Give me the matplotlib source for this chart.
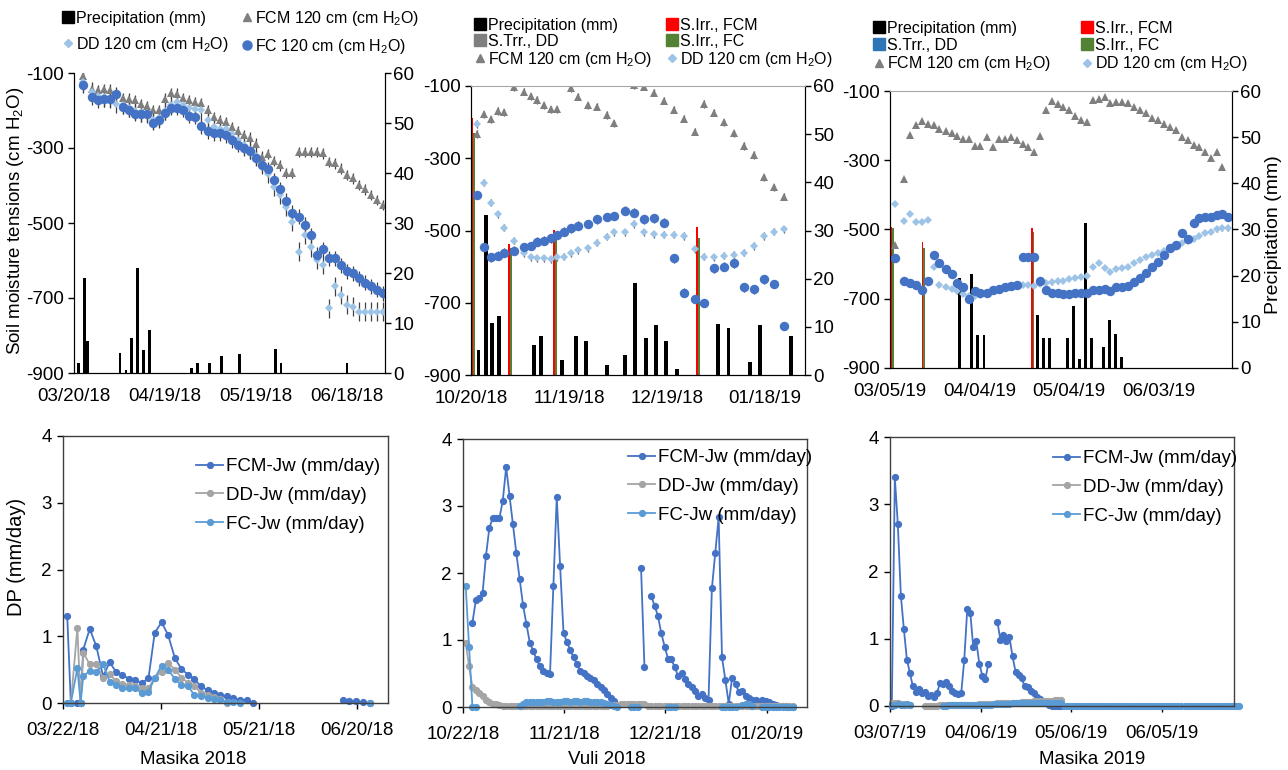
import numpy as np
import matplotlib
matplotlib.use("Agg")

import matplotlib.pyplot as plt
from matplotlib.lines import Line2D


plt.rcParams["font.family"] = ["Liberation Sans", "DejaVu Sans"]
plt.rcParams["mathtext.fontset"] = "custom"
plt.rcParams["mathtext.rm"] = "Liberation Sans"
plt.rcParams["mathtext.it"] = "Liberation Sans:italic"
plt.rcParams["axes.unicode_minus"] = False

FIG_W, FIG_H = 1288, 770
nan = np.nan

# Colours
FC_BLUE = "#4472C4"
DD_BLUE = "#9DC3E6"
FCM_GREY = "#7F7F7F"
ERR_COLOR = "#404040"
IRR_RED = "#FF0000"
IRR_GREEN = "#548235"
JW_FCM = "#4472C4"
JW_DD = "#A5A5A5"
JW_FC = "#5B9BD5"

# ---------------- Masika 2018 (top) : days after 03/20/18 ----------------
M18_DAYS = [3, 6, 8, 10, 12, 14, 16, 18, 20, 22, 24, 26, 28, 30, 32, 34, 36,
            38, 40, 42, 44, 46, 48, 50, 52, 54, 56, 58, 60, 62, 64, 66, 68, 70,
            72, 74, 76, 78, 80, 82, 84, 86, 88, 90, 92, 94, 96, 98, 100, 102]
M18_FCM = [-109, -142, -146, -142, -144, -155, -166, -168, -173, -183,
           -189, -199, -198, -168, -153, -155, -166, -173, -177, -180,
           -199, -217, -226, -230, -244, -254, -266, -272, -288, -323,
           -316, -334, -346, -366, -366, -310, -310, -310, -310, -314,
           -337, -341, -355, -372, -381, -399, -410, -425, -439, -452]
M18_DD = [-125, -150, -160, -165, -168, -182, -185, -192, -200, -205,
          -207, -225, -220, -200, -185, -177, -185, -192, -197, -199,
          -226, -244, -248, -248, -262, -278, -292, -305, -322, -345,
          -368, -403, -425, -456, -496, -576, -532, -565, -598, -612,
          -727, -669, -692, -718, -723, -736, -736, -736, -736, -736]
M18_FC = [-133, -164, -173, -170, -170, -157, -190, -198, -208, -210,
          -210, -233, -226, -206, -192, -192, -198, -214, -217, -242,
          -255, -260, -261, -266, -279, -291, -301, -308, -326, -344,
          -357, -386, -410, -441, -472, -483, -504, -532, -585, -570,
          -594, -594, -612, -629, -634, -647, -659, -669, -678, -687]
M18_RAIN_DAYS = [1.4, 3.4, 4.4, 15.2, 17.1, 19.0, 21.0, 23.0, 25.0, 38.8,
                 40.7, 44.6, 48.7, 54.5, 66.3, 68.2, 90.0]
M18_RAIN = [2.0, 19.0, 6.5, 4.0, 0.7, 7.0, 21.0, 4.7, 8.7, 1.0,
            2.1, 2.0, 3.5, 3.9, 4.8, 2.1, 2.1]
M18_TICKS = ["03/20/18", "04/19/18", "05/19/18", "06/18/18"]

# ---------------- Vuli 2018 (top) : days after 10/20/18 ----------------
V18_DAYS = [1.7, 4.0, 6.0, 8.2, 10.1, 13.2, 16.2, 18.3, 20.3, 22.3, 24.4, 26.4,
            28.5, 30.5, 32.6, 35.7, 38.7, 41.7, 43.9, 47.0, 50.0, 53.0, 56.1,
            59.2, 62.2, 65.3, 68.4, 71.4, 74.4, 77.4, 80.5, 83.6, 86.6, 89.7,
            92.8, 95.9]
V18_FCM = [-233, -178, -192, -169, -173, -104, -116, -128, -139, -153, -164,
           -165, nan, -106, -130, -153, -157, -180, -203, nan, -98, -102, -118,
           -141, -166, -191, -226, -150, -174, -201, -231, -266, -291, -353,
           -380, -406]
V18_DD = [-205, -368, -423, -455, -492, -528, -563, -574, -577, -577, -580,
          -574, -572, -563, -555, -549, -534, -517, -505, -505, -482, -505,
          -510, -512, -512, -515, -552, -572, -574, -570, -568, -561, -543,
          -515, -503, -497]
V18_FC = [-402, -546, -574, -570, -561, -556, -546, -543, -531, -528, -522,
          -512, -503, -494, -487, -482, -469, -463, -460, -445, -451, -469,
          -466, -478, -577, -672, -690, -701, -605, -600, -591, -657, -663,
          -635, -648, -764]
V18_RAIN_DAYS = [2.3, 4.5, 6.5, 8.7, 19.4, 21.3, 27.8, 32.0, 35.1, 41.7, 47.1,
                 50.2, 53.5, 56.5, 59.7, 62.9, 75.7, 78.8, 85.4, 88.5, 98.0]
V18_RAIN = [5.2, 33.2, 10.7, 12.2, 6.2, 8.1, 3.1, 8.1, 7.1, 2.1, 4.2,
            19.0, 7.6, 10.4, 7.1, 1.2, 10.6, 9.7, 2.8, 10.4, 8.1]
V18_IRR_DAYS = [0.7, 11.9, 25.7, 69.4]
V18_IRR_FCM = [53.3, 27.2, 30.1, 30.7]
V18_IRR_FC = [50.2, 26.3, 28.4, 28.4]
V18_TICKS = ["10/20/18", "11/19/18", "12/19/18", "01/18/19"]

# ---------------- Masika 2019 (top) : days after 03/05/19 ----------------
M19_DAYS = [1.7, 4.7, 6.7, 8.8, 10.7, 12.7, 14.6, 16.5, 18.7, 20.7, 22.5, 24.5,
            26.4, 28.4, 30.3, 32.4, 34.4, 36.4, 38.4, 40.4, 42.4, 44.4, 46.4,
            48.3, 50.3, 52.2, 54.2, 56.2, 58.1, 60.1, 62.1, 64.0, 66.1, 68.0,
            69.9, 71.9, 73.7, 75.7, 77.8, 79.8, 81.8, 83.8, 85.8, 87.9, 89.9,
            91.9, 93.8, 95.8, 97.8, 99.8, 101.8, 103.7, 105.6, 107.6, 109.6,
            111.2, 113.3]
M19_FCM = [-545, -353, -228, -199, -186, -196, -199, -209, -215, -221,
           -231, -240, -240, -259, -259, -234, -261, -240, -240, -234,
           -242, -254, -263, -276, -231, -156, -129, -138, -146, -156,
           -173, -183, -190, -127, -123, -117, -136, -132, -132, -134,
           -146, -156, -163, -177, -184, -194, -205, -213, -232, -241,
           -256, -261, -275, -294, -275, -320, nan]
M19_DD = [-425, -475, -455, -477, -477, -472, -607, -660, -667, -672,
          -679, -686, -692, -692, -689, -684, -679, -672, -667, -665,
          -663, -660, -660, -663, -657, -655, -653, -650, -648, -644,
          -641, -636, -634, -607, -597, -612, -622, -615, -612, -607,
          -596, -588, -578, -574, -567, -561, -557, -550, -540, -532,
          -526, -519, -511, -506, -500, -497, -497]
M19_FC = [-583, -648, -655, -660, -676, -648, -573, -597, -615, -628,
          -655, -665, -701, -679, -684, -682, -676, -672, -667, -663,
          -660, -580, -578, -578, -648, -675, -682, -684, -686, -686,
          -684, -682, -682, -676, -674, -672, -679, -665, -665, -663,
          -651, -641, -626, -607, -593, -574, -554, -545, -509, -528,
          -480, -468, -465, -463, -458, -455, -463]
M19_RAIN_DAYS = [23.3, 27.3, 29.2, 31.5, 49.4, 51.3, 53.3, 59.4, 61.4, 63.4,
                 65.6, 67.5, 71.6, 73.6, 75.7, 77.7]
M19_RAIN = [19.5, 20.4, 7.2, 7.2, 11.5, 6.5, 6.5, 6.5, 13.5, 1.9,
            31.3, 6.5, 4.5, 10.4, 7.4, 2.4]
M19_IRR_DAYS = [0.6, 11.2, 47.8]
M19_IRR_FCM = [30.6, 27.2, 30.3]
M19_IRR_FC = [30.3, 25.9, 29.5]
M19_TICKS = ["03/05/19", "04/04/19", "05/04/19", "06/03/19"]

# ---------------- Deep percolation, Masika 2018 : days after 03/22/18 ----------------
DP18_DAYS = [1.3, 2.4, 4.4, 5.4, 6.2, 8.2, 10.2, 12.3, 14.3, 16.2, 18.2, 20.3,
             22.1, 24.2, 26.2, 28.1, 30.2, 32.2, 34.3, 36.3, 38.4, 40.2, 42.3,
             44.3, 46.4, 48.1, 50.2, 52.2, 54.2, 56.3, 58.3, 70.0, 85.8, 87.8,
             89.9, 91.9, 94.0]
DP18_FCM = [1.30, 0.00, 0.00, 0.00, 0.80, 1.11, 0.85, 0.40, 0.61, 0.47, 0.42,
            0.36, 0.34, 0.30, 0.37, 1.05, 1.21, 1.02, 0.67, 0.51, 0.42, 0.36,
            0.25, 0.19, 0.15, 0.12, 0.10, 0.07, 0.05, 0.04, 0.00, nan, 0.04,
            0.025, 0.025, 0.01, 0.00]
DP18_DD = [nan, 0.00, 1.12, 0.00, 0.75, 0.58, 0.58, 0.38, 0.43, 0.33, 0.28,
           0.27, 0.25, 0.22, 0.22, 0.38, 0.47, 0.60, 0.50, 0.38, 0.30, 0.26,
           0.15, 0.12, 0.09, 0.06, 0.00, nan, nan, nan, nan, nan, nan,
           nan, nan, nan, nan]
DP18_FC = [0.00, 0.00, 0.52, 0.00, 0.40, 0.48, 0.46, 0.58, 0.32, 0.27, 0.23,
           0.22, 0.22, 0.15, 0.17, 0.37, 0.56, 0.50, 0.36, 0.27, 0.25, 0.12,
           0.11, 0.07, 0.06, 0.05, 0.02, 0.01, 0.00, nan, nan, nan, nan,
           nan, nan, nan, 0.00]
DP18_TICKS = ["03/22/18", "04/21/18", "05/21/18", "06/20/18"]

# ---------------- Deep percolation, Vuli 2018 : daily from 10/22/18 ----------------
DPV_START = 0.8
DPV_FCM = [nan, nan, 1.26, 1.59, 1.62, 1.70, 2.25, 2.67, 2.82, 2.82,
           2.82, 3.08, 3.58, 3.15, 2.73, 2.30, 1.91, 1.52, 1.24, 0.96,
           0.84, 0.71, 0.61, 0.54, 0.51, 0.49, 1.81, 3.13, 2.10, 1.11,
           0.97, 0.85, 0.74, 0.64, 0.54, 0.51, 0.47, 0.44, 0.41, 0.35,
           0.30, 0.25, 0.19, 0.14, 0.09, 0.02, nan, nan, nan, nan,
           nan, nan, 2.07, 0.60, nan, 1.66, 1.51, 1.36, 1.10, 0.90,
           0.72, 0.71, 0.59, 0.46, 0.51, 0.42, 0.35, 0.30, 0.24, 0.16,
           0.19, 0.14, 0.11, 1.77, 2.30, 2.83, 0.74, 0.40, 0.05, 0.44,
           0.35, 0.22, 0.24, 0.16, 0.14, 0.11, 0.10, 0.07, 0.10, 0.09,
           0.07, 0.04, 0.03, 0.02, 0.01, 0.01, 0.00, 0.00]
DPV_DD = [0.95, 0.61, 0.30, 0.26, 0.21, 0.16, 0.11, 0.07, 0.05, 0.04,
          0.03, 0.02, 0.02, 0.02, 0.02, 0.02, 0.01, 0.01, 0.01, 0.01,
          0.01, 0.01, 0.01, 0.01, 0.01, 0.01, 0.01, 0.01, 0.01, 0.01,
          0.01, 0.01, 0.01, 0.01, 0.01, 0.02, 0.02, 0.02, 0.02, 0.02,
          0.02, 0.02, 0.02, 0.03, 0.03, 0.03, 0.04, 0.05, 0.05, 0.05,
          0.05, 0.04, 0.05, 0.04, 0.02, 0.01, 0.01, 0.01, 0.01, 0.01,
          0.01, 0.01, 0.01, 0.01, 0.01, 0.01, 0.01, 0.01, 0.01, 0.01,
          0.01, 0.01, 0.01, 0.01, 0.01, 0.01, 0.01, 0.01, 0.01, 0.01,
          0.01, 0.01, 0.01, 0.01, 0.01, 0.01, 0.01, 0.01, 0.01, 0.01,
          0.01, 0.01, 0.01, 0.01, 0.01, 0.01, 0.01, 0.01]
DPV_FC = [1.81, 0.90, 0.00, 0.00, nan, nan, nan, nan, nan, nan,
          nan, nan, nan, nan, nan, nan, 0.01, 0.05, 0.07, 0.07,
          0.08, 0.08, 0.08, 0.08, 0.09, 0.09, 0.08, 0.08, 0.08, 0.09,
          0.09, 0.08, 0.09, 0.09, 0.08, 0.09, 0.09, 0.08, 0.08, 0.07,
          0.07, 0.06, 0.05, 0.03, 0.02, 0.00, nan, nan, nan, 0.00,
          0.00, 0.00, nan, nan, nan, nan, nan, nan, nan, nan,
          0.00, 0.00, 0.00, nan, nan, nan, nan, nan, nan, nan,
          nan, nan, nan, nan, nan, nan, 0.00, 0.00, 0.00, 0.00,
          0.00, nan, 0.03, 0.04, 0.04, 0.02, nan, nan, 0.00, 0.00,
          0.00, 0.00, 0.00, 0.00, 0.00, 0.00, 0.00, 0.00]
DPV_TICKS = ["10/22/18", "11/21/18", "12/21/18", "01/20/19"]

# ---------------- Deep percolation, Masika 2019 : daily from 03/07/19 ----------------
DP19_START = 0.6
DP19_FCM = [0.00, 3.40, 2.70, 1.64, 1.14, 0.69, 0.49, 0.29, 0.21, 0.25,
            0.20, 0.21, 0.15, 0.16, 0.13, 0.20, 0.34, 0.33, 0.35, 0.30,
            0.23, 0.20, 0.18, 0.19, 0.68, 1.44, 1.39, 0.87, 0.96, 0.63,
            0.45, 0.40, 0.63, nan, nan, 1.25, 0.98, 1.05, 0.96, 1.02,
            0.74, 0.51, 0.46, 0.41, 0.30, 0.28, 0.23, 0.20, 0.14, 0.10,
            0.06, 0.04, 0.01, 0.00, 0.00, 0.00, 0.00]
DP19_DD = [0.04, 0.05, 0.04, 0.03, 0.03, 0.02, 0.01, nan, nan, nan,
           nan, 0.00, 0.00, 0.00, 0.00, 0.00, 0.01, 0.01, 0.01, 0.01,
           0.01, 0.01, 0.02, 0.02, 0.02, 0.02, 0.02, 0.02, 0.02, 0.03,
           0.03, 0.03, 0.03, 0.03, 0.03, 0.04, 0.04, 0.04, 0.04, 0.05,
           0.05, 0.05, 0.05, 0.06, 0.06, 0.06, 0.06, 0.07, 0.07, 0.07,
           0.07, 0.08, 0.08, 0.08, 0.09, 0.09, 0.09]
DP19_FC = [0.02, 0.02, 0.03, 0.02, 0.02, 0.03, 0.02, nan, nan, nan,
           nan, nan, nan, nan, nan, nan, nan, 0.00, 0.00, 0.01,
           0.01, 0.01, 0.01, 0.01, 0.01, 0.02, 0.02, 0.02, 0.02, 0.02,
           0.02, 0.02, 0.02, 0.02, 0.03, 0.03, 0.03, 0.03, 0.03, 0.03,
           0.04, 0.04, 0.04, 0.04, 0.04, 0.05, 0.05, 0.05, 0.05, 0.05,
           0.05, 0.05, 0.05, 0.05, 0.05, 0.05, 0.05, 0.00, 0.00, 0.00,
           0.00, 0.00, 0.00, 0.00, 0.00, 0.00, 0.00, 0.00, 0.00, 0.00,
           0.00, 0.00, 0.00, 0.00, 0.00, 0.00, 0.00, 0.00, 0.00, 0.00,
           0.00, 0.00, 0.00, 0.00, 0.00, 0.00, 0.00, 0.00, 0.00, 0.00,
           0.00, 0.00, 0.00, 0.00, 0.00, 0.00, 0.00, 0.00, 0.00, 0.00,
           0.00, 0.00, 0.00, 0.00, 0.00, 0.00, 0.00, 0.00, 0.00, 0.00,
           0.00, 0.00, 0.00, 0.00, 0.00, 0.00]
DP19_TICKS = ["03/07/19", "04/06/19", "05/06/19", "06/05/19"]

TENSION_TICKS = [-100, -300, -500, -700, -900]
DATE_TICKS = [0, 30, 60, 90]
H2O = "(cm H$_2$O)"


def add_axes_px(fig, left, top, right, bottom):
    """Axes placed with pixel edges."""
    return fig.add_axes([left / FIG_W, 1 - bottom / FIG_H,
                         (right - left) / FIG_W, (bottom - top) / FIG_H])


def legend_at(ax, fig, handles, labels, x, y, **kwargs):
    return ax.legend(handles, labels, loc="upper left",
                     bbox_to_anchor=(x / FIG_W, 1 - y / FIG_H),
                     bbox_transform=fig.transFigure, frameon=False,
                     borderpad=0, borderaxespad=0, **kwargs)


def square(color):
    return Line2D([], [], marker="s", color=color, linestyle="none",
                  markersize=8)


def plot_tension_panel(fig, rect, days, fcm, dd, fc, rain_days, rain,
                       bar_width, xlim, tick_labels, errors, irr=None,
                       top_spine=True):
    ax = add_axes_px(fig, *rect)
    ax_rain = ax.twinx()

    ax_rain.bar(rain_days, rain, width=bar_width, color="black")
    if irr is not None:
        irr_days = np.array(irr[0])
        ax_rain.bar(irr_days - 0.3, irr[1], width=0.6, color=IRR_RED)
        ax_rain.bar(irr_days + 0.3, irr[2], width=0.6, color=IRR_GREEN)
    ax_rain.set_ylim(0, 60)
    ax_rain.set_yticks(range(0, 61, 10))
    ax_rain.tick_params(axis="y", labelsize=13.5, length=4, width=1, pad=2)

    ax.set_zorder(ax_rain.get_zorder() + 1)
    ax.patch.set_visible(False)

    series = [
        (fcm, "^", FCM_GREY, 5.8, errors[0]),
        (dd, "D", DD_BLUE, 4.4, errors[1]),
        (fc, "o", FC_BLUE, 6.8, errors[2]),
    ]
    for values, marker, color, size, err in series:
        ax.errorbar(days, values, yerr=err, fmt=marker, color=color,
                    markersize=size, markeredgewidth=0, ecolor=ERR_COLOR,
                    elinewidth=0.9, capsize=3, capthick=1.0)

    ax.set_xlim(*xlim)
    ax.set_ylim(-900, -100)
    ax.set_yticks(TENSION_TICKS)
    ax.set_xticks(DATE_TICKS)
    ax.set_xticklabels(tick_labels)
    ax.tick_params(axis="y", labelsize=13.5, length=4, width=1, pad=3)
    ax.tick_params(axis="x", labelsize=13.5, length=0, pad=11)

    for a in (ax, ax_rain):
        a.spines["top"].set_visible(False)
    if top_spine:
        ax.spines["top"].set_visible(True)
        ax.spines["top"].set_color("#A6A6A6")
        ax.spines["top"].set_linewidth(0.8)
    return ax


def plot_drainage_panel(fig, rect, days, fcm, dd, fc, xlim, tick_labels):
    ax = add_axes_px(fig, *rect)
    for values, color in ((fcm, JW_FCM), (dd, JW_DD), (fc, JW_FC)):
        ax.plot(days, values, color=color, marker="o", markersize=4.2,
                linewidth=1.3, clip_on=False)
    ax.set_xlim(*xlim)
    ax.set_ylim(0, 4)
    ax.set_yticks(range(0, 5))
    ax.set_xticks(DATE_TICKS)
    ax.set_xticklabels(tick_labels)
    ax.tick_params(labelsize=13.5, length=4, width=1, pad=4)
    ax.tick_params(axis="x", pad=10)
    for spine in ax.spines.values():
        spine.set_color("#404040")
        spine.set_linewidth(1.0)
    return ax


def main():
    fig = plt.figure(figsize=(FIG_W / 100, FIG_H / 100), dpi=100)

    h_rain = square("black")
    h_fcm = Line2D([], [], marker="^", color=FCM_GREY, linestyle="none",
                   markersize=5.5)
    h_dd = Line2D([], [], marker="D", color=DD_BLUE, linestyle="none",
                  markersize=4.2)
    h_fc = Line2D([], [], marker="o", color=FC_BLUE, linestyle="none",
                  markersize=6.5)
    top_legend = dict(fontsize=11.5, handlelength=0.7, handletextpad=0.15,
                      ncol=2)

    # Masika 2018
    ax1 = plot_tension_panel(fig, (74, 73, 385, 373), M18_DAYS, M18_FCM,
                             M18_DD, M18_FC, M18_RAIN_DAYS, M18_RAIN, 0.9,
                             (0, 102.5), M18_TICKS, (14, 25, 20),
                             top_spine=False)
    legend_at(ax1, fig, [h_rain, h_dd, h_fcm, h_fc],
              ["Precipitation (mm)", "DD 120 cm " + H2O,
               "FCM 120 cm " + H2O, "FC 120 cm " + H2O],
              62, 9, columnspacing=0.8, labelspacing=0.55, **top_legend)
    fig.text(16 / FIG_W, 1 - 221 / FIG_H,
             "Soil moisture tensions (cm H$_2$O)", rotation=90,
             ha="center", va="center", fontsize=13.5)

    # Vuli 2018
    ax2 = plot_tension_panel(fig, (471, 86, 805, 375), V18_DAYS, V18_FCM,
                             V18_DD, V18_FC, V18_RAIN_DAYS, V18_RAIN, 1.2,
                             (0, 102.2), V18_TICKS, (10, 10, 12),
                             irr=(V18_IRR_DAYS, V18_IRR_FCM, V18_IRR_FC))
    legend_at(ax2, fig,
              [h_rain, square(FCM_GREY), h_fcm, square(IRR_RED),
               square(IRR_GREEN), h_dd],
              ["Precipitation (mm)", "S.Trr., DD", "FCM 120 cm " + H2O,
               "S.Irr., FCM", "S.Irr., FC", "DD 120 cm " + H2O],
              474, 18, columnspacing=0.9, labelspacing=0.05, **top_legend)

    # Masika 2019
    ax3 = plot_tension_panel(fig, (890, 91, 1232, 368), M19_DAYS, M19_FCM,
                             M19_DD, M19_FC, M19_RAIN_DAYS, M19_RAIN, 1.0,
                             (0, 114.6), M19_TICKS, (6, 6, 5),
                             irr=(M19_IRR_DAYS, M19_IRR_FCM, M19_IRR_FC))
    legend_at(ax3, fig,
              [h_rain, square("#2E75B6"), h_fcm, square(IRR_RED),
               square(IRR_GREEN), h_dd],
              ["Precipitation (mm)", "S.Trr., DD", "FCM 120 cm " + H2O,
               "S.Irr., FCM", "S.Irr., FC", "DD 120 cm " + H2O],
              873, 21, columnspacing=1.9, labelspacing=0.1, **top_legend)
    fig.text(1274 / FIG_W, 1 - 235 / FIG_H, "Precipitation (mm)",
             rotation=90, ha="center", va="center", fontsize=14)

    # Deep percolation panels
    jw_handles = [
        Line2D([], [], color=c, marker="o", markersize=4.2, linewidth=1.3)
        for c in (JW_FCM, JW_DD, JW_FC)
    ]
    jw_labels = ["FCM-Jw (mm/day)", "DD-Jw (mm/day)", "FC-Jw (mm/day)"]
    bottom_legend = dict(fontsize=13.5, handlelength=1.45, handletextpad=0.15,
                         labelspacing=0.62)

    ax4 = plot_drainage_panel(fig, (63, 436, 388, 703), DP18_DAYS, DP18_FCM,
                              DP18_DD, DP18_FC, (0, 99.6), DP18_TICKS)
    legend_at(ax4, fig, jw_handles, jw_labels, 196, 458, **bottom_legend)
    fig.text(17 / FIG_W, 1 - 557 / FIG_H, "DP (mm/day)", rotation=90,
             ha="center", va="center", fontsize=14.5)

    dpv_days = DPV_START + np.arange(len(DPV_FCM))
    ax5 = plot_drainage_panel(fig, (463, 439, 807, 707), dpv_days, DPV_FCM,
                              DPV_DD, DPV_FC, (0, 102), DPV_TICKS)
    legend_at(ax5, fig, jw_handles, jw_labels, 628, 449, **bottom_legend)

    dp19_days = DP19_START + np.arange(len(DP19_FC))
    dp19_fcm = DP19_FCM + [nan] * (len(DP19_FC) - len(DP19_FCM))
    dp19_dd = DP19_DD + [nan] * (len(DP19_FC) - len(DP19_DD))
    ax6 = plot_drainage_panel(fig, (890, 437, 1234, 706), dp19_days, dp19_fcm,
                              dp19_dd, DP19_FC, (0, 114), DP19_TICKS)
    legend_at(ax6, fig, jw_handles, jw_labels, 1053, 450, **bottom_legend)

    for x, label in ((193, "Masika 2018"), (607, "Vuli 2018"),
                     (1092, "Masika 2019")):
        fig.text(x / FIG_W, 1 - 760 / FIG_H, label, ha="center",
                 va="center", fontsize=13.5)

    fig.savefig("out.png", dpi=100)
    plt.close(fig)


if __name__ == "__main__":
    main()
